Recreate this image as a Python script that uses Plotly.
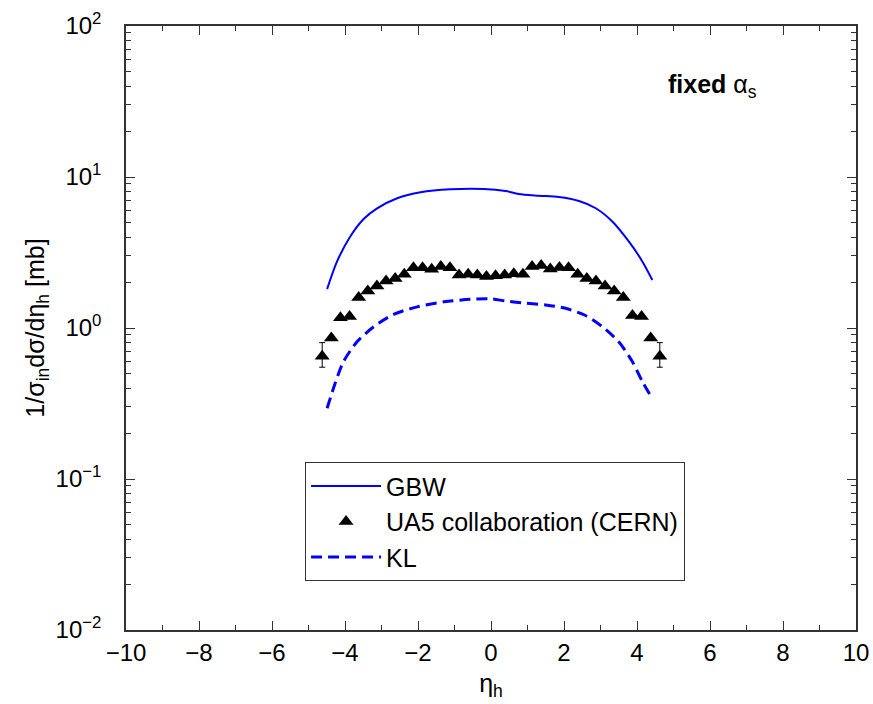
import plotly.graph_objects as go

# Pseudorapidity bins of the UA5 measurement and the measured distribution
eta_data = [-4.625, -4.375, -4.125, -3.875, -3.625, -3.375, -3.125, -2.875, -2.625, -2.375,
            -2.125, -1.875, -1.625, -1.375, -1.125, -0.875, -0.625, -0.375, -0.125,
            0.125, 0.375, 0.625, 0.875, 1.125, 1.375, 1.625, 1.875, 2.125, 2.375,
            2.625, 2.875, 3.125, 3.375, 3.625, 3.875, 4.125, 4.375, 4.625]
ua5_vals = [0.65, 0.86, 1.17, 1.19, 1.59, 1.76, 1.90, 2.05, 2.13, 2.27,
            2.51, 2.51, 2.45, 2.55, 2.51, 2.24, 2.27, 2.24, 2.19,
            2.22, 2.24, 2.29, 2.27, 2.55, 2.59, 2.46, 2.52, 2.51, 2.27,
            2.13, 2.05, 1.90, 1.76, 1.59, 1.21, 1.19, 0.86, 0.65]
ua5_err_up = [0.15] + [0.0] * 36 + [0.15]
ua5_err_dn = [0.10] + [0.0] * 36 + [0.10]

# GBW model curve
eta_gbw = [-4.49, -4.22, -3.86, -3.49, -3.12, -2.57, -1.93, -1.11, -0.2, 0.40,
           0.76, 1.31, 1.86, 2.41, 2.87, 3.33, 3.78, 4.15, 4.42]
gbw_vals = [1.81, 2.75, 4.02, 5.27, 6.2, 7.23, 7.92, 8.29, 8.33, 8.08,
            7.72, 7.52, 7.37, 6.93, 6.21, 5.06, 3.73, 2.75, 2.08]

# KL model curve
eta_kl = [-4.49, -4.27, -4.04, -3.67, -3.21, -2.67, -2.02, -1.29, -0.56, -0.01,
          0.40, 0.95, 1.5, 2.04, 2.59, 3.05, 3.5, 3.87, 4.15, 4.42]
kl_vals = [0.294, 0.43, 0.60, 0.81, 1.02, 1.23, 1.38, 1.49, 1.55, 1.56,
           1.51, 1.46, 1.42, 1.35, 1.21, 1.02, 0.81, 0.60, 0.44, 0.34]

# Axis ticks
x_range = [-10, 10]
y_tickvals = [0.01, 0.1, 1, 10, 100]
y_ticktext = ["10<sup>−2</sup>", "10<sup>−1</sup>", "10<sup>0</sup>", "10<sup>1</sup>", "10<sup>2</sup>"]

FONT = "Liberation Sans, Arial, Helvetica, sans-serif"
BLUE = "#0000ff"
AXC = "#333333"

fig = go.Figure()

fig.add_trace(go.Scatter(
    x=eta_gbw, y=gbw_vals, mode="lines", name="GBW",
    line=dict(color=BLUE, width=2, shape="spline", smoothing=0.8),
))

fig.add_trace(go.Scatter(
    x=eta_data, y=ua5_vals, mode="markers", name="UA5 collaboration (CERN)",
    marker=dict(symbol="triangle-up", size=13, color="black"),
    error_y=dict(type="data", symmetric=False, array=ua5_err_up,
                 arrayminus=ua5_err_dn, color="black", thickness=1, width=3),
))

fig.add_trace(go.Scatter(
    x=eta_kl, y=kl_vals, mode="lines", name="KL",
    line=dict(color=BLUE, width=3, dash="11px,6px", shape="spline", smoothing=0.8),
))

# empty trace so the top/right frame axes get drawn
fig.add_trace(go.Scatter(
    x=[None], y=[None], xaxis="x2", yaxis="y2", mode="markers",
    showlegend=False, hoverinfo="skip",
))

tick_style = dict(
    showline=True, linecolor=AXC, linewidth=1.5,
    ticks="inside", ticklen=9, tickwidth=1.2, tickcolor=AXC,
    showgrid=False, zeroline=False, automargin=False,
    tickfont=dict(family=FONT, size=24, color="black"),
)
x_minor = dict(ticks="inside", ticklen=5, dtick=1, tickcolor=AXC, showgrid=False)
y_minor = dict(ticks="inside", ticklen=5, dtick="D1", tickcolor=AXC, showgrid=False)

fig.update_layout(
    width=873, height=704,
    margin=dict(l=126, r=17, t=26, b=74),
    paper_bgcolor="white", plot_bgcolor="white",
    font=dict(family=FONT, color="black"),
    xaxis=dict(
        range=x_range, dtick=2, tick0=0, minor=x_minor,
        title=dict(text="η<sub>h</sub>", font=dict(family=FONT, size=25, color="black"), standoff=10),
        **tick_style,
    ),
    yaxis=dict(
        type="log", range=[-2, 2], tickvals=y_tickvals, ticktext=y_ticktext, minor=y_minor,
        ticklabelstandoff=18,
        title=dict(text="1/σ<sub>in</sub>dσ/dη<sub>h</sub> [mb]",
                   font=dict(family=FONT, size=25, color="black"), standoff=4),
        **tick_style,
    ),
    # top and right axes repeat the inward ticks around the frame
    xaxis2=dict(
        overlaying="x", side="top", range=x_range, dtick=2, tick0=0,
        minor=x_minor, showticklabels=False, **tick_style,
    ),
    yaxis2=dict(
        overlaying="y", side="right", type="log", range=[-2, 2], tickvals=y_tickvals,
        minor=y_minor, showticklabels=False, **tick_style,
    ),
    legend=dict(
        x=0.245, y=0.278, xanchor="left", yanchor="top",
        bgcolor="white", bordercolor=AXC, borderwidth=1.2,
        font=dict(family=FONT, size=25, color="black"),
        itemwidth=70, tracegroupgap=0,
    ),
)

fig.add_annotation(
    xref="paper", yref="paper", x=0.74, y=0.90, xanchor="left", yanchor="middle",
    text="<b>fixed</b> α<sub>s</sub>", showarrow=False,
    font=dict(family=FONT, size=25, color="black"),
)

fig.write_html("out.html")
